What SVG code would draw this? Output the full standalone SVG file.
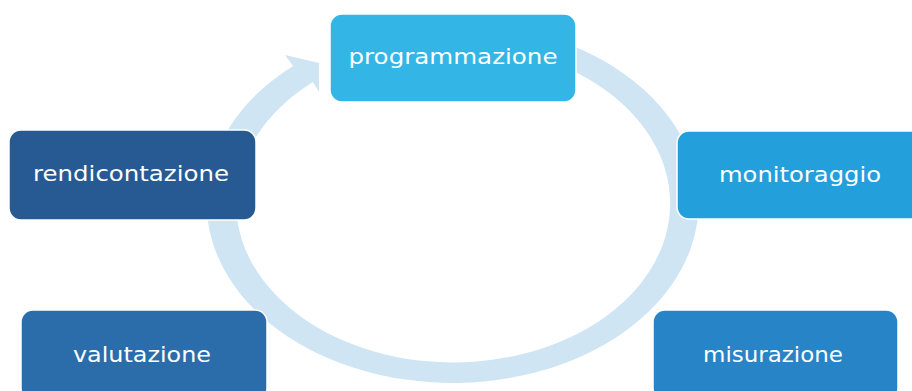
<svg xmlns="http://www.w3.org/2000/svg" width="912" height="391" viewBox="0 0 912 391">
<style>
.box{stroke:#ffffff;stroke-width:1.5}
.lbl{font-family:"DejaVu Sans","Liberation Sans",sans-serif;font-size:21px;font-weight:normal;fill:#ffffff;text-anchor:middle}
</style>
<rect width="912" height="391" fill="#ffffff"/>
<g id="connectors">
<path d="M560,41 A246,180 0 1 1 293,66 L285,55 L319,63 L319,92 L313,82 A217,159 0 1 0 560,65 Z" fill="#cfe5f4"/>
</g>
<g id="programmazione">
<rect class="box" x="330" y="14" width="246" height="88" rx="12" fill="#33b5e6"/>
<text class="lbl" x="453" y="64" textLength="209" lengthAdjust="spacingAndGlyphs">programmazione</text>
</g>
<g id="monitoraggio">
<rect class="box" x="677" y="131" width="246" height="88" rx="12" fill="#23a0dc"/>
<text class="lbl" x="800" y="182" textLength="162" lengthAdjust="spacingAndGlyphs">monitoraggio</text>
</g>
<g id="rendicontazione">
<rect class="box" x="9" y="130" width="247" height="90" rx="12" fill="#275a92"/>
<text class="lbl" x="131" y="181" textLength="196" lengthAdjust="spacingAndGlyphs">rendicontazione</text>
</g>
<g id="valutazione">
<rect class="box" x="21" y="310" width="246" height="90" rx="12" fill="#2a6daa"/>
<text class="lbl" x="142" y="362" textLength="138" lengthAdjust="spacingAndGlyphs">valutazione</text>
</g>
<g id="misurazione">
<rect class="box" x="653" y="310" width="245" height="90" rx="12" fill="#2784c6"/>
<text class="lbl" x="773" y="362" textLength="140" lengthAdjust="spacingAndGlyphs">misurazione</text>
</g>
</svg>
